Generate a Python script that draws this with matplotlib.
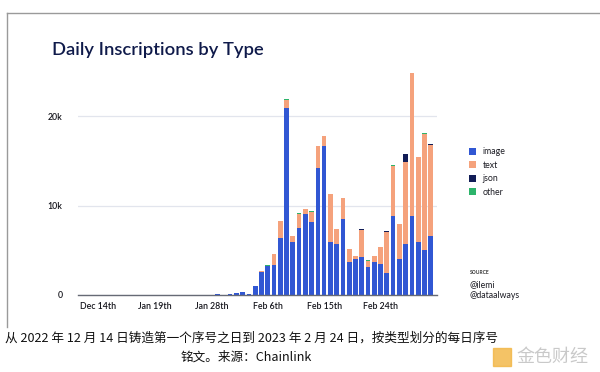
import numpy as np
import matplotlib
matplotlib.use("Agg")
import matplotlib.pyplot as plt
from matplotlib.lines import Line2D
from matplotlib.patches import Rectangle

# ---- data ----
image = [5, 0, 0, 0, 0, 0, 0, 0, 0, 0, 0, 0, 0, 0, 0, 0, 0, 0, 0,
         60, 40, 80, 180, 330, 150, 950, 2600, 3200, 3360, 6340,
         20860, 5900, 7460, 9070, 8210, 14160, 16650, 5910, 5690, 8480,
         3640, 4010, 4200, 3090, 3680, 3490, 2450, 8880, 4010, 5690,
         8850, 5870, 5060, 6540]
text = [0, 0, 0, 0, 0, 0, 0, 0, 0, 0, 0, 0, 0, 0, 0, 0, 0, 0, 0,
        0, 0, 0, 0, 0, 0, 50, 60, 60, 1230, 1940,
        920, 740, 1560, 520, 1070, 2490, 1120, 5390, 1710, 2410,
        1450, 380, 3080, 700, 630, 1860, 4640, 5560, 3950, 9220,
        15980, 9590, 12960, 10200]
json_ = [0] * 42 + [120, 0, 0, 0, 80, 0, 0, 810, 0, 0, 0, 100]
other = ([0] * 26 + [60, 80, 0, 0, 80, 0, 120, 0, 120, 0, 0, 0, 0, 0,
                     80, 0, 0, 80, 0, 0, 0, 100, 0, 0, 0, 0, 120, 0])
series_names = ["image", "text", "json", "other"]
tick_labels = ["Dec 14th", "Jan 19th", "Jan 28th", "Feb 6th", "Feb 15th", "Feb 24th"]
tick_every = 9
y_ticks = [0, 10000, 20000]
y_tick_labels = ["0", "10k", "20k"]

colors = ["#3157d3", "#f5a27c", "#121d57", "#2db46b"]

W, H = 600, 372
fig = plt.figure(figsize=(W / 100, H / 100), dpi=100)
fig.patch.set_facecolor("white")

def fx(px):
    return px / W

def fy(py):
    return 1 - py / H

ax_left, ax_right, ax_top, ax_bottom = 78, 437, 66, 295
ax = fig.add_axes([fx(ax_left), fy(ax_bottom), (ax_right - ax_left) / W,
                   (ax_bottom - ax_top) / H])

x = np.arange(len(image))
data = [np.array(image, float), np.array(text, float),
        np.array(json_, float), np.array(other, float)]
bottom = np.zeros(len(x))
handles = []
for vals, c, name in zip(data, colors, series_names):
    b = ax.bar(x, vals, bottom=bottom, width=0.75, color=c, linewidth=0,
               label=name, zorder=3)
    handles.append(b)
    bottom = bottom + vals

ax.set_xlim(-3.25, len(x))
ax.set_ylim(0, 25587)
ax.set_yticks(y_ticks)
ax.set_yticklabels(y_tick_labels)
ax.set_xticks(x[::tick_every])
ax.set_xticklabels(tick_labels)

for s in ["top", "right", "left"]:
    ax.spines[s].set_visible(False)
ax.spines["bottom"].set_color("#666a75")
ax.spines["bottom"].set_linewidth(1.0)
ax.spines["bottom"].set_zorder(4)
ax.grid(axis="y", color="#e2e5ed", linewidth=0.9, zorder=0)
ax.tick_params(axis="both", length=0, labelsize=6.3, colors="#15151c")
ax.tick_params(axis="y", pad=11)
ax.tick_params(axis="x", pad=5)
for lab in ax.get_xticklabels() + ax.get_yticklabels():
    lab.set_family("Lato")
    lab.set_fontweight("semibold")

# legend
leg = fig.legend(handles=handles, labels=series_names, loc="upper left",
                 bbox_to_anchor=(fx(465), fy(144)), frameon=False,
                 prop={"family": "Lato", "size": 6.3},
                 handlelength=0.8, handleheight=0.8, handletextpad=0.8,
                 labelspacing=0.5, borderaxespad=0)
for t in leg.get_texts():
    t.set_color("#1c1c24")

# source block
fig.text(fx(470), fy(272), "SOURCE", fontsize=3.6, family="Lato",
         fontweight="bold", color="#333333", va="center")
fig.text(fx(470), fy(285), "@ilemi", fontsize=6.3, family="Lato",
         color="#1c1c24", va="center")
fig.text(fx(470), fy(296), "@dataalways", fontsize=6.3, family="Lato",
         color="#1c1c24", va="center")

# title
fig.text(fx(52), fy(50), "Daily Inscriptions by Type", fontsize=13.2,
         family="Lato", fontweight="semibold", color="#0f1a4a", va="center")

# card frame
fig.add_artist(Line2D([fx(7), 1], [fy(13), fy(13)], transform=fig.transFigure,
                      color="#9a9a9a", lw=1.0))
fig.add_artist(Line2D([fx(7), fx(7)], [fy(13), fy(327)], transform=fig.transFigure,
                      color="#9a9a9a", lw=1.0))

# caption
cap_font = ["Noto Sans CJK SC", "DejaVu Sans"]
fig.text(fx(5), fy(338), "从 2022 年 12 月 14 日铸造第一个序号之日到 2023 年 2 月 24 日，按类型划分的每日序号",
         fontsize=9.1, family=cap_font, color="#111111", va="center", ha="left")
fig.text(fx(246), fy(357), "铭文。来源：Chainlink",
         fontsize=9.1, family=cap_font, color="#111111", va="center", ha="center")

# watermark
fig.patches.append(Rectangle((fx(493), fy(366)), 18 / W, 18 / H,
                             transform=fig.transFigure, color="#f2b440",
                             alpha=0.8, zorder=5))
fig.text(fx(516), fy(357), "金色财经", fontsize=13, family=cap_font,
         color="#c4c4c4", alpha=0.9, va="center", ha="left", zorder=5)

fig.savefig("out.png", dpi=100)
